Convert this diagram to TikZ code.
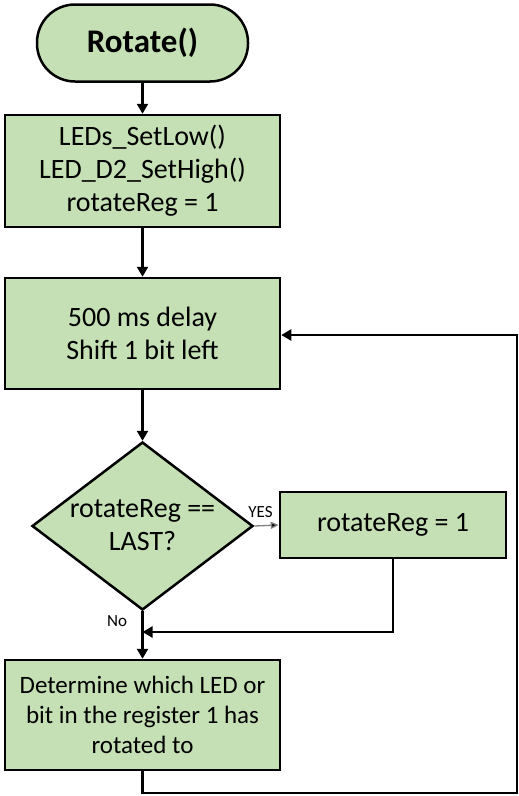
\documentclass[tikz,border=0pt]{standalone}
\usepackage{fontspec}
\setmainfont{Carlito}
\usetikzlibrary{shapes.geometric,arrows.meta}
\definecolor{boxgreen}{HTML}{C5E0B4}
\definecolor{yesgray}{HTML}{7F7F7F}
\begin{document}
\begin{tikzpicture}[x=1pt,y=-1pt,
  every node/.style={font=\fontsize{28}{33}\selectfont},
  procbox/.style={draw=black,line width=2.5pt,fill=boxgreen,align=center,inner sep=0pt},
  termbox/.style={procbox,rounded corners=38pt},
  decbox/.style={draw=black,line width=2.5pt,fill=boxgreen,diamond,inner sep=0pt},
  conn/.style={line width=2.5pt,-{Triangle[length=10pt,width=11pt]}},
  yesconn/.style={line width=1.3pt,draw=yesgray,-{Triangle[length=8pt,width=7pt,fill=black]}},
  smalllbl/.style={font=\fontsize{17}{20}\selectfont,inner sep=0pt}
]
\useasboundingbox (0,0) rectangle (519,796);
\node[termbox,minimum width=211pt,minimum height=77pt,font=\fontsize{33}{38}\selectfont\bfseries] (term) at (142.5,43) {Rotate()};
\node[procbox,minimum width=275pt,minimum height=112pt] (b1) at (142.5,171) {LEDs\_SetLow()\\LED\_D2\_SetHigh()\\rotateReg = 1};
\node[procbox,minimum width=275pt,minimum height=111pt] (b2) at (142.5,333.5) {500 ms delay\\Shift 1 bit left};
\node[decbox,minimum width=221pt,minimum height=168pt] (dia) at (142.5,526) {};
\node[align=center,inner sep=0pt] (diatext) at (142.5,525) {rotateReg ==\\LAST?};
\node[procbox,minimum width=226pt,minimum height=66pt] (rb) at (393,525) {rotateReg = 1};
\node[procbox,minimum width=275pt,minimum height=110pt,font=\fontsize{25}{30}\selectfont] (bot) at (142.5,715) {Determine which LED or\\bit in the register 1 has\\rotated to};
\node[smalllbl] (yes) at (260.5,512.5) {YES};
\node[smalllbl] (no) at (117,621) {No};
\coordinate (merge) at (142.5,632);
\coordinate (rbturn) at (rb.south |- merge);
\coordinate (lpA) at (142.5,793);
\coordinate (lpB) at (517,793);
\coordinate (lpC) at (517,335);
\draw[conn] (term) -- (b1);
\draw[conn] (b1) -- (b2);
\draw[conn] (b2) -- (dia.north);
\draw[yesconn] (dia.east) -- (rb.west);
\draw[conn] (dia.south) -- (bot.north);
\draw[conn] (rb.south) -- (rbturn) -- (merge);
\draw[conn] (bot.south) -- (lpA) -- (lpB) -- (lpC) -- (b2.east |- lpC);
\end{tikzpicture}
\end{document}
